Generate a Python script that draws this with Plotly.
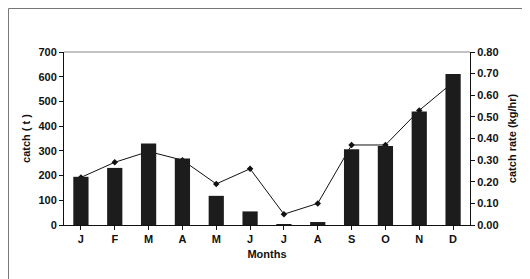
import plotly.graph_objects as go

months = ["J", "F", "M", "A", "M", "J", "J", "A", "S", "O", "N", "D"]
catch_t = [195, 231, 330, 269, 118, 55, 2, 12, 307, 320, 459, 611]
catch_rate = [0.22, 0.29, 0.34, 0.30, 0.19, 0.26, 0.05, 0.10, 0.37, 0.37, 0.53, 0.66]

x_idx = list(range(len(months)))

fig = go.Figure()
# line on primary (right-side) axis so bars (overlaying axis) are drawn on top
fig.add_trace(go.Scatter(
    x=x_idx, y=catch_rate, mode="lines+markers",
    line=dict(color="#111111", width=1),
    marker=dict(symbol="diamond", size=5, color="#111111"),
    yaxis="y", showlegend=False))
fig.add_trace(go.Bar(
    x=x_idx, y=catch_t, marker=dict(color="#1c1c1c", line=dict(width=0)),
    yaxis="y2", showlegend=False))

font_b = dict(family="Liberation Sans, Arial", size=11, color="#111111")

fig.update_layout(
    width=522, height=271,
    margin=dict(l=56, r=60, t=44, b=54),
    paper_bgcolor="white", plot_bgcolor="white",
    bargap=0.55,
    font=font_b,
    xaxis=dict(
        range=[-0.5, 11.5], tickmode="array", tickvals=x_idx, ticktext=[f"<b>{m}</b>" for m in months],
        showgrid=False, zeroline=False, showline=True, linecolor="#111111", linewidth=1,
        ticks="outside", tickson="boundaries", ticklen=4, tickcolor="#111111",
        tickfont=dict(family="Liberation Sans, Arial", size=11, color="#111111"),
        title=dict(text="<b>Months</b>", font=dict(family="Liberation Sans, Arial", size=11, color="#111111"), standoff=6),
    ),
    yaxis=dict(
        side="right", range=[0, 0.8], dtick=0.1, tickformat=".2f",
        showgrid=False, zeroline=False, showline=True, linecolor="#111111", linewidth=1,
        ticks="outside", ticklen=4, tickcolor="#111111",
        tickfont=dict(family="Liberation Sans, Arial", size=11, color="#111111"),
        tickprefix="<b>", ticksuffix="</b>",
        title=dict(text="<b>catch rate (kg/hr)</b>", font=dict(family="Liberation Sans, Arial", size=11, color="#111111"), standoff=10),
    ),
    yaxis2=dict(
        side="left", overlaying="y", range=[0, 700], dtick=100,
        showgrid=False, zeroline=False, showline=True, linecolor="#111111", linewidth=1,
        ticks="outside", ticklen=4, tickcolor="#111111",
        tickfont=dict(family="Liberation Sans, Arial", size=11, color="#111111"),
        tickprefix="<b>", ticksuffix="</b>",
        title=dict(text="<b>catch ( t )</b>", font=dict(family="Liberation Sans, Arial", size=11, color="#111111"), standoff=5),
    ),
    shapes=[
        dict(type="line", xref="paper", yref="paper", x0=0, x1=1, y0=1, y1=1,
             line=dict(color="#888888", width=1)),
        dict(type="line", xref="paper", yref="paper", x0=-0.1367, x1=1.1404, y0=1.2514, y1=1.2514,
             line=dict(color="#777777", width=1)),
        dict(type="line", xref="paper", yref="paper", x0=-0.1367, x1=-0.1367, y0=-0.32, y1=1.2514,
             line=dict(color="#777777", width=1)),
    ],
)

fig.write_html("out.html")
